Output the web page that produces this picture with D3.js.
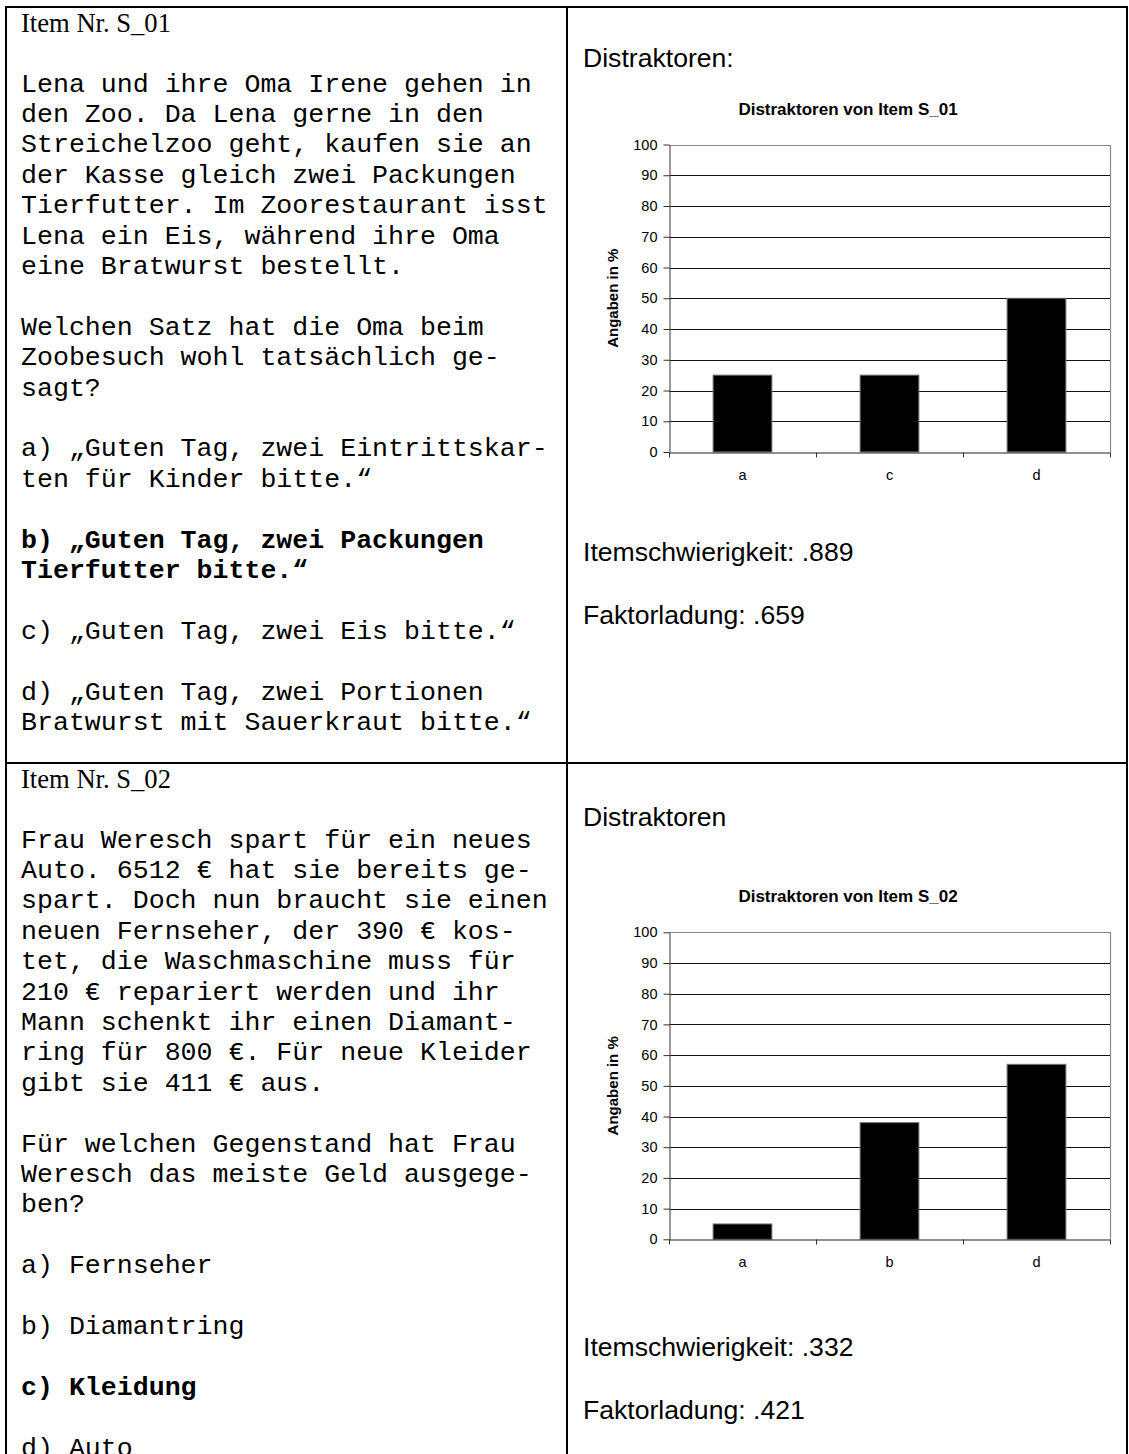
<!DOCTYPE html>
<html>
<head>
<meta charset="utf-8">
<script src="https://cdn.jsdelivr.net/npm/d3@7"></script>
<style>
  html, body { margin: 0; padding: 0; background: #fff; }
  svg { display: block; }
  text { white-space: pre; }
</style>
</head>
<body>
<svg id="page" width="1129" height="1454"></svg>
<script>
// ---- item texts ----
const item1Label = "Item Nr. S_01";
const item1Lines = [
  "Lena und ihre Oma Irene gehen in",
  "den Zoo. Da Lena gerne in den",
  "Streichelzoo geht, kaufen sie an",
  "der Kasse gleich zwei Packungen",
  "Tierfutter. Im Zoorestaurant isst",
  "Lena ein Eis, während ihre Oma",
  "eine Bratwurst bestellt.",
  "",
  "Welchen Satz hat die Oma beim",
  "Zoobesuch wohl tatsächlich ge-",
  "sagt?",
  "",
  "a) „Guten Tag, zwei Eintrittskar-",
  "ten für Kinder bitte.“",
  "",
  "b) „Guten Tag, zwei Packungen",
  "Tierfutter bitte.“",
  "",
  "c) „Guten Tag, zwei Eis bitte.“",
  "",
  "d) „Guten Tag, zwei Portionen",
  "Bratwurst mit Sauerkraut bitte.“"
];
const item1Bold = [15, 16];

const item2Label = "Item Nr. S_02";
const item2Lines = [
  "Frau Weresch spart für ein neues",
  "Auto. 6512 € hat sie bereits ge-",
  "spart. Doch nun braucht sie einen",
  "neuen Fernseher, der 390 € kos-",
  "tet, die Waschmaschine muss für",
  "210 € repariert werden und ihr",
  "Mann schenkt ihr einen Diamant-",
  "ring für 800 €. Für neue Kleider",
  "gibt sie 411 € aus.",
  "",
  "Für welchen Gegenstand hat Frau",
  "Weresch das meiste Geld ausgege-",
  "ben?",
  "",
  "a) Fernseher",
  "",
  "b) Diamantring",
  "",
  "c) Kleidung",
  "",
  "d) Auto"
];
const item2Bold = [18];

// ---- chart data ----
const yTicks = [0, 10, 20, 30, 40, 50, 60, 70, 80, 90, 100];
const yTitle = "Angaben in %";

const chart1Heading = "Distraktoren:";
const chart1Title = "Distraktoren von Item S_01";
const chart1Categories = ["a", "c", "d"];
const chart1Values = [25, 25, 50];
const chart1Difficulty = ".889";
const chart1Loading = ".659";

const chart2Heading = "Distraktoren";
const chart2Title = "Distraktoren von Item S_02";
const chart2Categories = ["a", "b", "d"];
const chart2Values = [5, 38, 57];
const chart2Difficulty = ".332";
const chart2Loading = ".421";

const SANS = "'Liberation Sans', Arial, sans-serif";
const MONO = "'Liberation Mono', 'Courier New', monospace";
const SERIF = "'Liberation Serif', 'Times New Roman', serif";
const BODY_SIZE = 26.6;     // 12pt body text
const LINE_PITCH = 30.4;    // single spacing of the monospace body

const svg = d3.select("#page");
svg.append("rect").attr("width", 1129).attr("height", 1454).attr("fill", "#fff");

// ---- table frame ----
const frame = svg.append("g").attr("stroke", "#000").attr("stroke-width", 2).attr("fill", "none");
const tableLeft = 6, tableTop = 7, tableMid = 567, tableRight = 1127, rowSplit = 763;
frame.append("line").attr("x1", tableLeft - 1).attr("x2", tableRight + 1).attr("y1", tableTop).attr("y2", tableTop);
frame.append("line").attr("x1", tableLeft - 1).attr("x2", tableRight + 1).attr("y1", rowSplit).attr("y2", rowSplit);
frame.append("line").attr("x1", tableLeft).attr("x2", tableLeft).attr("y1", tableTop).attr("y2", 1454);
frame.append("line").attr("x1", tableMid).attr("x2", tableMid).attr("y1", tableTop).attr("y2", 1454);
frame.append("line").attr("x1", tableRight).attr("x2", tableRight).attr("y1", tableTop).attr("y2", 1454);

// ---- left column: item text ----
function drawItem(cellTop, label, lines, boldIdx) {
  const g = svg.append("g");
  g.append("text")
    .attr("x", 21).attr("y", cellTop + 25)
    .attr("font-family", SERIF).attr("font-size", BODY_SIZE)
    .text(label);
  g.selectAll("text.line").data(lines).join("text")
    .attr("class", "line")
    .attr("x", 21)
    .attr("y", (d, i) => cellTop + 84.5 + i * LINE_PITCH)
    .attr("font-family", MONO).attr("font-size", BODY_SIZE)
    .attr("font-weight", (d, i) => boldIdx.includes(i) ? "bold" : "normal")
    .attr("fill", "#000")
    .text(d => d);
}
drawItem(tableTop, item1Label, item1Lines, item1Bold);
drawItem(rowSplit, item2Label, item2Lines, item2Bold);

// ---- right column: bar charts ----
function drawChart(opts) {
  const g = svg.append("g");
  const left = 669, right = 1110;
  const y = d3.scaleLinear().domain([0, 100]).range([opts.y0, opts.y100]);
  const x = d3.scaleBand().domain(opts.categories).range([left, right]).padding(0);

  g.append("text").attr("x", 583).attr("y", opts.headingY)
    .attr("font-family", SANS).attr("font-size", BODY_SIZE).text(opts.heading);

  g.append("text").attr("x", 848).attr("y", opts.y100 - 30)
    .attr("text-anchor", "middle")
    .attr("font-family", SANS).attr("font-size", 17).attr("font-weight", "bold")
    .text(opts.title);

  // gridlines
  g.append("g").selectAll("line").data(yTicks.filter(t => t > 0 && t < 100)).join("line")
    .attr("x1", left).attr("x2", right)
    .attr("y1", d => Math.round(y(d)) + 0.5).attr("y2", d => Math.round(y(d)) + 0.5)
    .attr("stroke", "#111").attr("stroke-width", 1);

  // plot border (top and right)
  g.append("path")
    .attr("d", `M${left},${Math.round(y(100)) + 0.5}H${right + 0.5}V${Math.round(y(0))}`)
    .attr("fill", "none").attr("stroke", "#888").attr("stroke-width", 1.2);

  // bars
  const barW = x.bandwidth() * 0.4;
  g.append("g").selectAll("rect").data(opts.values).join("rect")
    .attr("x", (d, i) => x(opts.categories[i]) + (x.bandwidth() - barW) / 2)
    .attr("y", d => y(d))
    .attr("width", barW)
    .attr("height", d => y(0) - y(d))
    .attr("fill", "#000").attr("stroke", "#777").attr("stroke-width", 1);

  // y axis
  const yAxis = g.append("g").attr("transform", `translate(${left + 0.5},0)`)
    .call(d3.axisLeft(y).tickValues(yTicks).tickSize(6).tickPadding(6).tickSizeOuter(0));
  yAxis.select(".domain").attr("stroke", "#555").attr("stroke-width", 1.2);
  yAxis.selectAll(".tick line").attr("stroke", "#333");
  yAxis.selectAll(".tick text").attr("font-family", SANS).attr("font-size", 14.5).attr("fill", "#000");

  // x axis: labels at category centres, tick marks between categories
  const xAxis = g.append("g").attr("transform", `translate(0,${Math.round(y(0)) + 0.5})`)
    .call(d3.axisBottom(x).tickSize(0).tickPadding(17));
  xAxis.select(".domain").attr("stroke", "#222").attr("stroke-width", 1.2);
  xAxis.selectAll(".tick text").attr("font-family", SANS).attr("font-size", 14.5).attr("fill", "#000");
  xAxis.selectAll("line.sep").data(opts.categories.concat(["end"])).join("line")
    .attr("class", "sep")
    .attr("x1", (d, i) => i < opts.categories.length ? Math.round(x(d)) + 0.5 : right + 0.5)
    .attr("x2", (d, i) => i < opts.categories.length ? Math.round(x(d)) + 0.5 : right + 0.5)
    .attr("y1", 0).attr("y2", 5)
    .attr("stroke", "#333");

  // y axis title
  g.append("text")
    .attr("transform", `translate(618,${(opts.y0 + opts.y100) / 2}) rotate(-90)`)
    .attr("text-anchor", "middle")
    .attr("font-family", SANS).attr("font-size", 15).attr("font-weight", "bold")
    .text(yTitle);

  g.append("text").attr("x", 583).attr("y", opts.infoY)
    .attr("font-family", SANS).attr("font-size", BODY_SIZE)
    .text("Itemschwierigkeit: " + opts.difficulty);
  g.append("text").attr("x", 583).attr("y", opts.infoY + 63)
    .attr("font-family", SANS).attr("font-size", BODY_SIZE)
    .text("Faktorladung: " + opts.loading);
}

drawChart({
  y0: 452, y100: 144.5, headingY: 67, infoY: 561,
  heading: chart1Heading, title: chart1Title,
  categories: chart1Categories, values: chart1Values,
  difficulty: chart1Difficulty, loading: chart1Loading
});
drawChart({
  y0: 1239.3, y100: 932.3, headingY: 826, infoY: 1356,
  heading: chart2Heading, title: chart2Title,
  categories: chart2Categories, values: chart2Values,
  difficulty: chart2Difficulty, loading: chart2Loading
});
</script>
</body>
</html>
